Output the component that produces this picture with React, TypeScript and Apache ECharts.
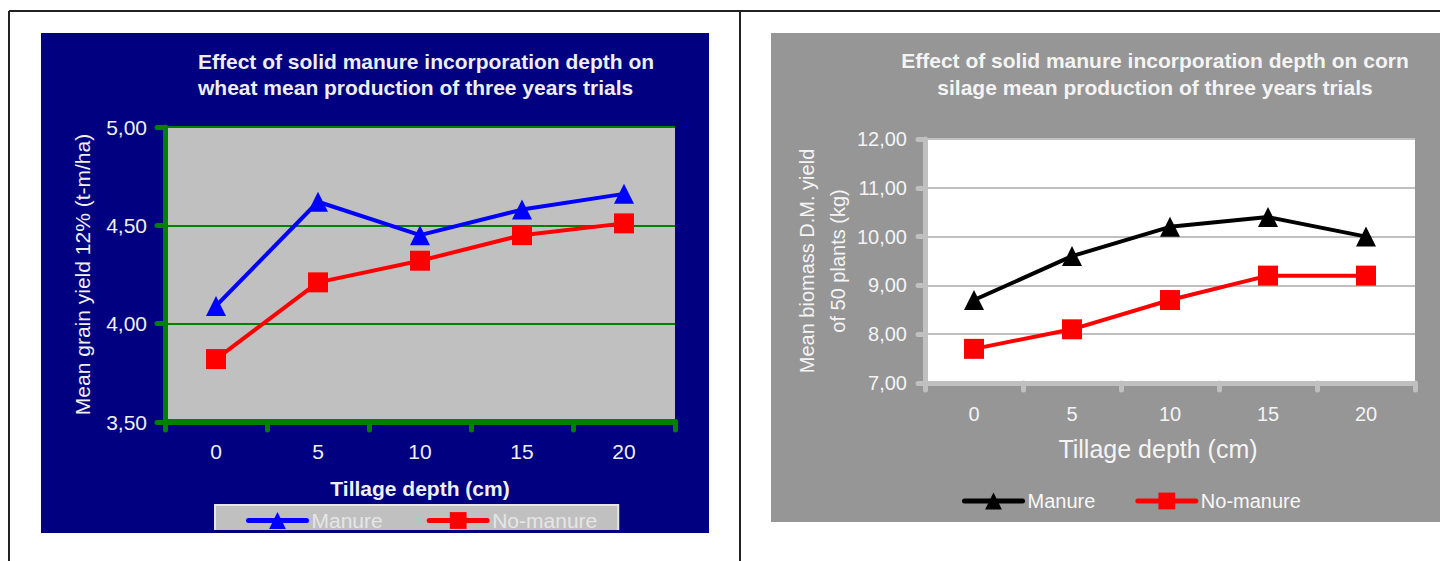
import React, { useEffect, useRef } from "react";
import * as echarts from "echarts";

// ---- data ----
const depths = ["0", "5", "10", "15", "20"];
const wheatManure = [4.09, 4.62, 4.45, 4.58, 4.66];
const wheatNoManure = [3.82, 4.21, 4.32, 4.45, 4.51];
const cornManure = [8.7, 9.6, 10.2, 10.4, 10.0];
const cornNoManure = [7.7, 8.1, 8.7, 9.2, 9.2];
const seriesNames = ["Manure", "No-manure"];
const wheatTitle = "Effect of solid manure incorporation depth on\nwheat mean production of three years trials";
const cornTitle = "Effect of solid manure incorporation depth on corn\nsilage mean production of three years trials";
const wheatYName = "Mean grain yield 12% (t-m/ha)";
const cornYName = "Mean biomass D.M. yield\nof 50 plants (kg)";
const xName = "Tillage depth (cm)";

const FONT = "'Liberation Sans', Arial, sans-serif";
const fmt = (v: number) => v.toFixed(2).replace(".", ",");

export default function App() {
  const ref = useRef<HTMLDivElement>(null);
  useEffect(() => {
    if (!ref.current) return;
    const chart = echarts.init(ref.current, undefined, { renderer: "svg" });
    const green = "#008000";
    const lightGray = "#c0c0c0";
    // suffix makes the right chart's series distinct for its own legend
    const R = " ";
    const option: any = {
      animation: false,
      textStyle: { fontFamily: FONT },
      graphic: [
        // panels
        { type: "rect", z: -10, shape: { x: 41, y: 33, width: 668, height: 500 }, style: { fill: "#000080" } },
        { type: "rect", z: -10, shape: { x: 771, y: 33, width: 669, height: 489 }, style: { fill: "#969696" } },
        // outer table borders
        { type: "line", z: -5, shape: { x1: 9, y1: 11, x2: 1440, y2: 11 }, style: { stroke: "#222", lineWidth: 2 } },
        { type: "line", z: -5, shape: { x1: 9, y1: 11, x2: 9, y2: 561 }, style: { stroke: "#222", lineWidth: 2 } },
        { type: "line", z: -5, shape: { x1: 740, y1: 11, x2: 740, y2: 561 }, style: { stroke: "#222", lineWidth: 2 } },
        // titles
        {
          type: "text", left: 198, top: 48,
          style: { text: wheatTitle, fill: "#eeeeee", font: `bold 21px ${FONT}`, lineHeight: 26, textAlign: "left" },
        },
        {
          type: "text", x: 1155, y: 47,
          style: { text: cornTitle, fill: "#f4f4f4", font: `bold 21px ${FONT}`, lineHeight: 27, textAlign: "center" },
        },
        // clip of the left legend box at the panel bottom
        { type: "rect", z: 100, shape: { x: 205, y: 530, width: 425, height: 3 }, style: { fill: "#000080" } },
        { type: "rect", z: 100, shape: { x: 205, y: 533, width: 425, height: 28 }, style: { fill: "#ffffff" } },
      ],
      legend: [
        {
          data: seriesNames.map((n) => ({ name: n })),
          left: 215, top: 505,
          padding: [5, 21, 6, 31],
          backgroundColor: lightGray,
          borderColor: "#e6e6e6",
          borderWidth: 2,
          itemWidth: 58, itemHeight: 21, itemGap: 44,
          lineStyle: { width: 5, cap: "round" },
          textStyle: { color: "#e6e6e6", fontSize: 21, fontFamily: FONT },
          selectedMode: false,
        },
        {
          data: seriesNames.map((n) => ({ name: n + R })),
          formatter: (n: string) => n.trim(),
          left: 957, top: 486,
          itemWidth: 58, itemHeight: 21, itemGap: 40,
          lineStyle: { width: 5, cap: "round" },
          textStyle: { color: "#f8f8f8", fontSize: 20, fontFamily: FONT },
          selectedMode: false,
        },
      ],
      grid: [
        { left: 165, top: 127, width: 510, height: 295, show: true, backgroundColor: lightGray, borderWidth: 0 },
        { left: 925, top: 139, width: 490, height: 244, show: true, backgroundColor: "#ffffff", borderWidth: 0 },
      ],
      xAxis: [
        {
          gridIndex: 0, type: "category", data: depths, boundaryGap: true,
          axisLine: { lineStyle: { color: green, width: 6, cap: "round" } },
          axisTick: { show: true, length: 8, lineStyle: { color: green, width: 5, cap: "round" } },
          axisLabel: { color: "#f0f0f0", fontSize: 21, margin: 19, fontFamily: FONT },
          name: xName, nameLocation: "middle", nameGap: 56,
          nameTextStyle: { color: "#f0f0f0", fontSize: 21, fontWeight: "bold", fontFamily: FONT },
        },
        {
          gridIndex: 1, type: "category", data: depths, boundaryGap: true,
          axisLine: { lineStyle: { color: lightGray, width: 5, cap: "round" } },
          axisTick: { show: true, length: 7, lineStyle: { color: lightGray, width: 5, cap: "round" } },
          axisLabel: { color: "#f4f4f4", fontSize: 20, margin: 21, fontFamily: FONT },
          name: xName, nameLocation: "middle", nameGap: 53,
          nameTextStyle: { color: "#f4f4f4", fontSize: 25, fontFamily: FONT, padding: [0, 24, 0, 0] },
        },
      ],
      yAxis: [
        {
          gridIndex: 0, type: "value", min: 3.5, max: 5, interval: 0.5,
          axisLine: { show: true, lineStyle: { color: green, width: 5, cap: "round" } },
          axisTick: { show: true, length: 8, lineStyle: { color: green, width: 5, cap: "round" } },
          splitLine: { show: true, lineStyle: { color: green, width: 2 } },
          axisLabel: { color: "#f0f0f0", fontSize: 21, margin: 18, formatter: fmt, fontFamily: FONT },
          name: wheatYName, nameLocation: "middle", nameGap: 72, nameRotate: 90,
          nameTextStyle: { color: "#f0f0f0", fontSize: 21, fontFamily: FONT },
        },
        {
          gridIndex: 1, type: "value", min: 7, max: 12, interval: 1,
          axisLine: { show: true, lineStyle: { color: lightGray, width: 5, cap: "round" } },
          axisTick: { show: true, length: 7, lineStyle: { color: lightGray, width: 5, cap: "round" } },
          splitLine: { show: true, lineStyle: { color: lightGray, width: 2 } },
          axisLabel: { color: "#f4f4f4", fontSize: 20, margin: 18, formatter: fmt, fontFamily: FONT },
          name: cornYName, nameLocation: "middle", nameGap: 71, nameRotate: 90,
          nameTextStyle: { color: "#f4f4f4", fontSize: 20, lineHeight: 31, fontFamily: FONT },
        },
      ],
      series: [
        {
          name: seriesNames[0], type: "line", xAxisIndex: 0, yAxisIndex: 0, data: wheatManure,
          symbol: "triangle", symbolSize: 20, showAllSymbol: true,
          lineStyle: { color: "#0000ff", width: 4 }, itemStyle: { color: "#0000ff" },
        },
        {
          name: seriesNames[1], type: "line", xAxisIndex: 0, yAxisIndex: 0, data: wheatNoManure,
          symbol: "rect", symbolSize: 20, showAllSymbol: true,
          lineStyle: { color: "#ff0000", width: 4 }, itemStyle: { color: "#ff0000" },
        },
        {
          name: seriesNames[0] + R, type: "line", xAxisIndex: 1, yAxisIndex: 1, data: cornManure,
          symbol: "triangle", symbolSize: 20, showAllSymbol: true,
          lineStyle: { color: "#000000", width: 4 }, itemStyle: { color: "#000000" },
        },
        {
          name: seriesNames[1] + R, type: "line", xAxisIndex: 1, yAxisIndex: 1, data: cornNoManure,
          symbol: "rect", symbolSize: 20, showAllSymbol: true,
          lineStyle: { color: "#ff0000", width: 4 }, itemStyle: { color: "#ff0000" },
        },
      ],
    };
    chart.setOption(option);
    return () => chart.dispose();
  }, []);
  return (
    <div
      ref={ref}
      style={{ position: "absolute", left: 0, top: 0, width: 1440, height: 561, background: "#ffffff" }}
    />
  );
}
